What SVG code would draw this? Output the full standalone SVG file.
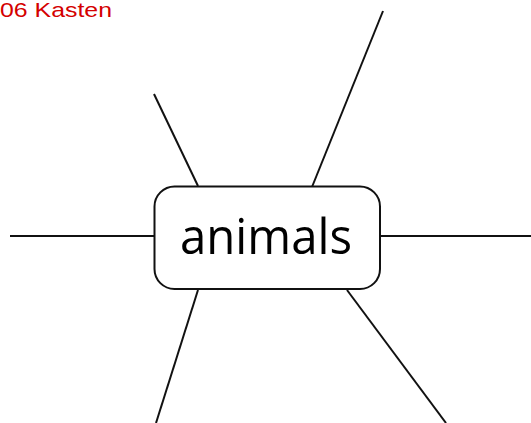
<svg xmlns="http://www.w3.org/2000/svg" width="531" height="423" viewBox="0 0 531 423">
<style>
.ln{stroke:#111;stroke-width:2;fill:none;stroke-linecap:butt}
.box{fill:#fff;stroke:#111;stroke-width:2}
.lbl{font-family:"Open Sans","DejaVu Sans",sans-serif;font-size:50px;fill:#000}
.title{font-family:"Liberation Sans",Arial,sans-serif;font-size:21px;fill:#d40000}
</style>
<rect width="531" height="423" fill="#fff"/>
<text class="title" x="0" y="17" textLength="112" lengthAdjust="spacingAndGlyphs">06 Kasten</text>
<g id="connectors">
<line class="ln" x1="10" y1="236" x2="154" y2="236"/>
<line class="ln" x1="380" y1="236" x2="531" y2="236"/>
<line class="ln" x1="154" y1="94" x2="198" y2="186"/>
<line class="ln" x1="383" y1="11" x2="312" y2="187"/>
<line class="ln" x1="198" y1="290" x2="156" y2="423"/>
<line class="ln" x1="347" y1="290" x2="446" y2="423"/>
</g>
<g id="node-animals">
<rect class="box" x="154.5" y="186.5" width="225.5" height="102.5" rx="20" ry="20"/>
<text class="lbl" x="180" y="254" textLength="172" lengthAdjust="spacingAndGlyphs">animals</text>
</g>
</svg>
